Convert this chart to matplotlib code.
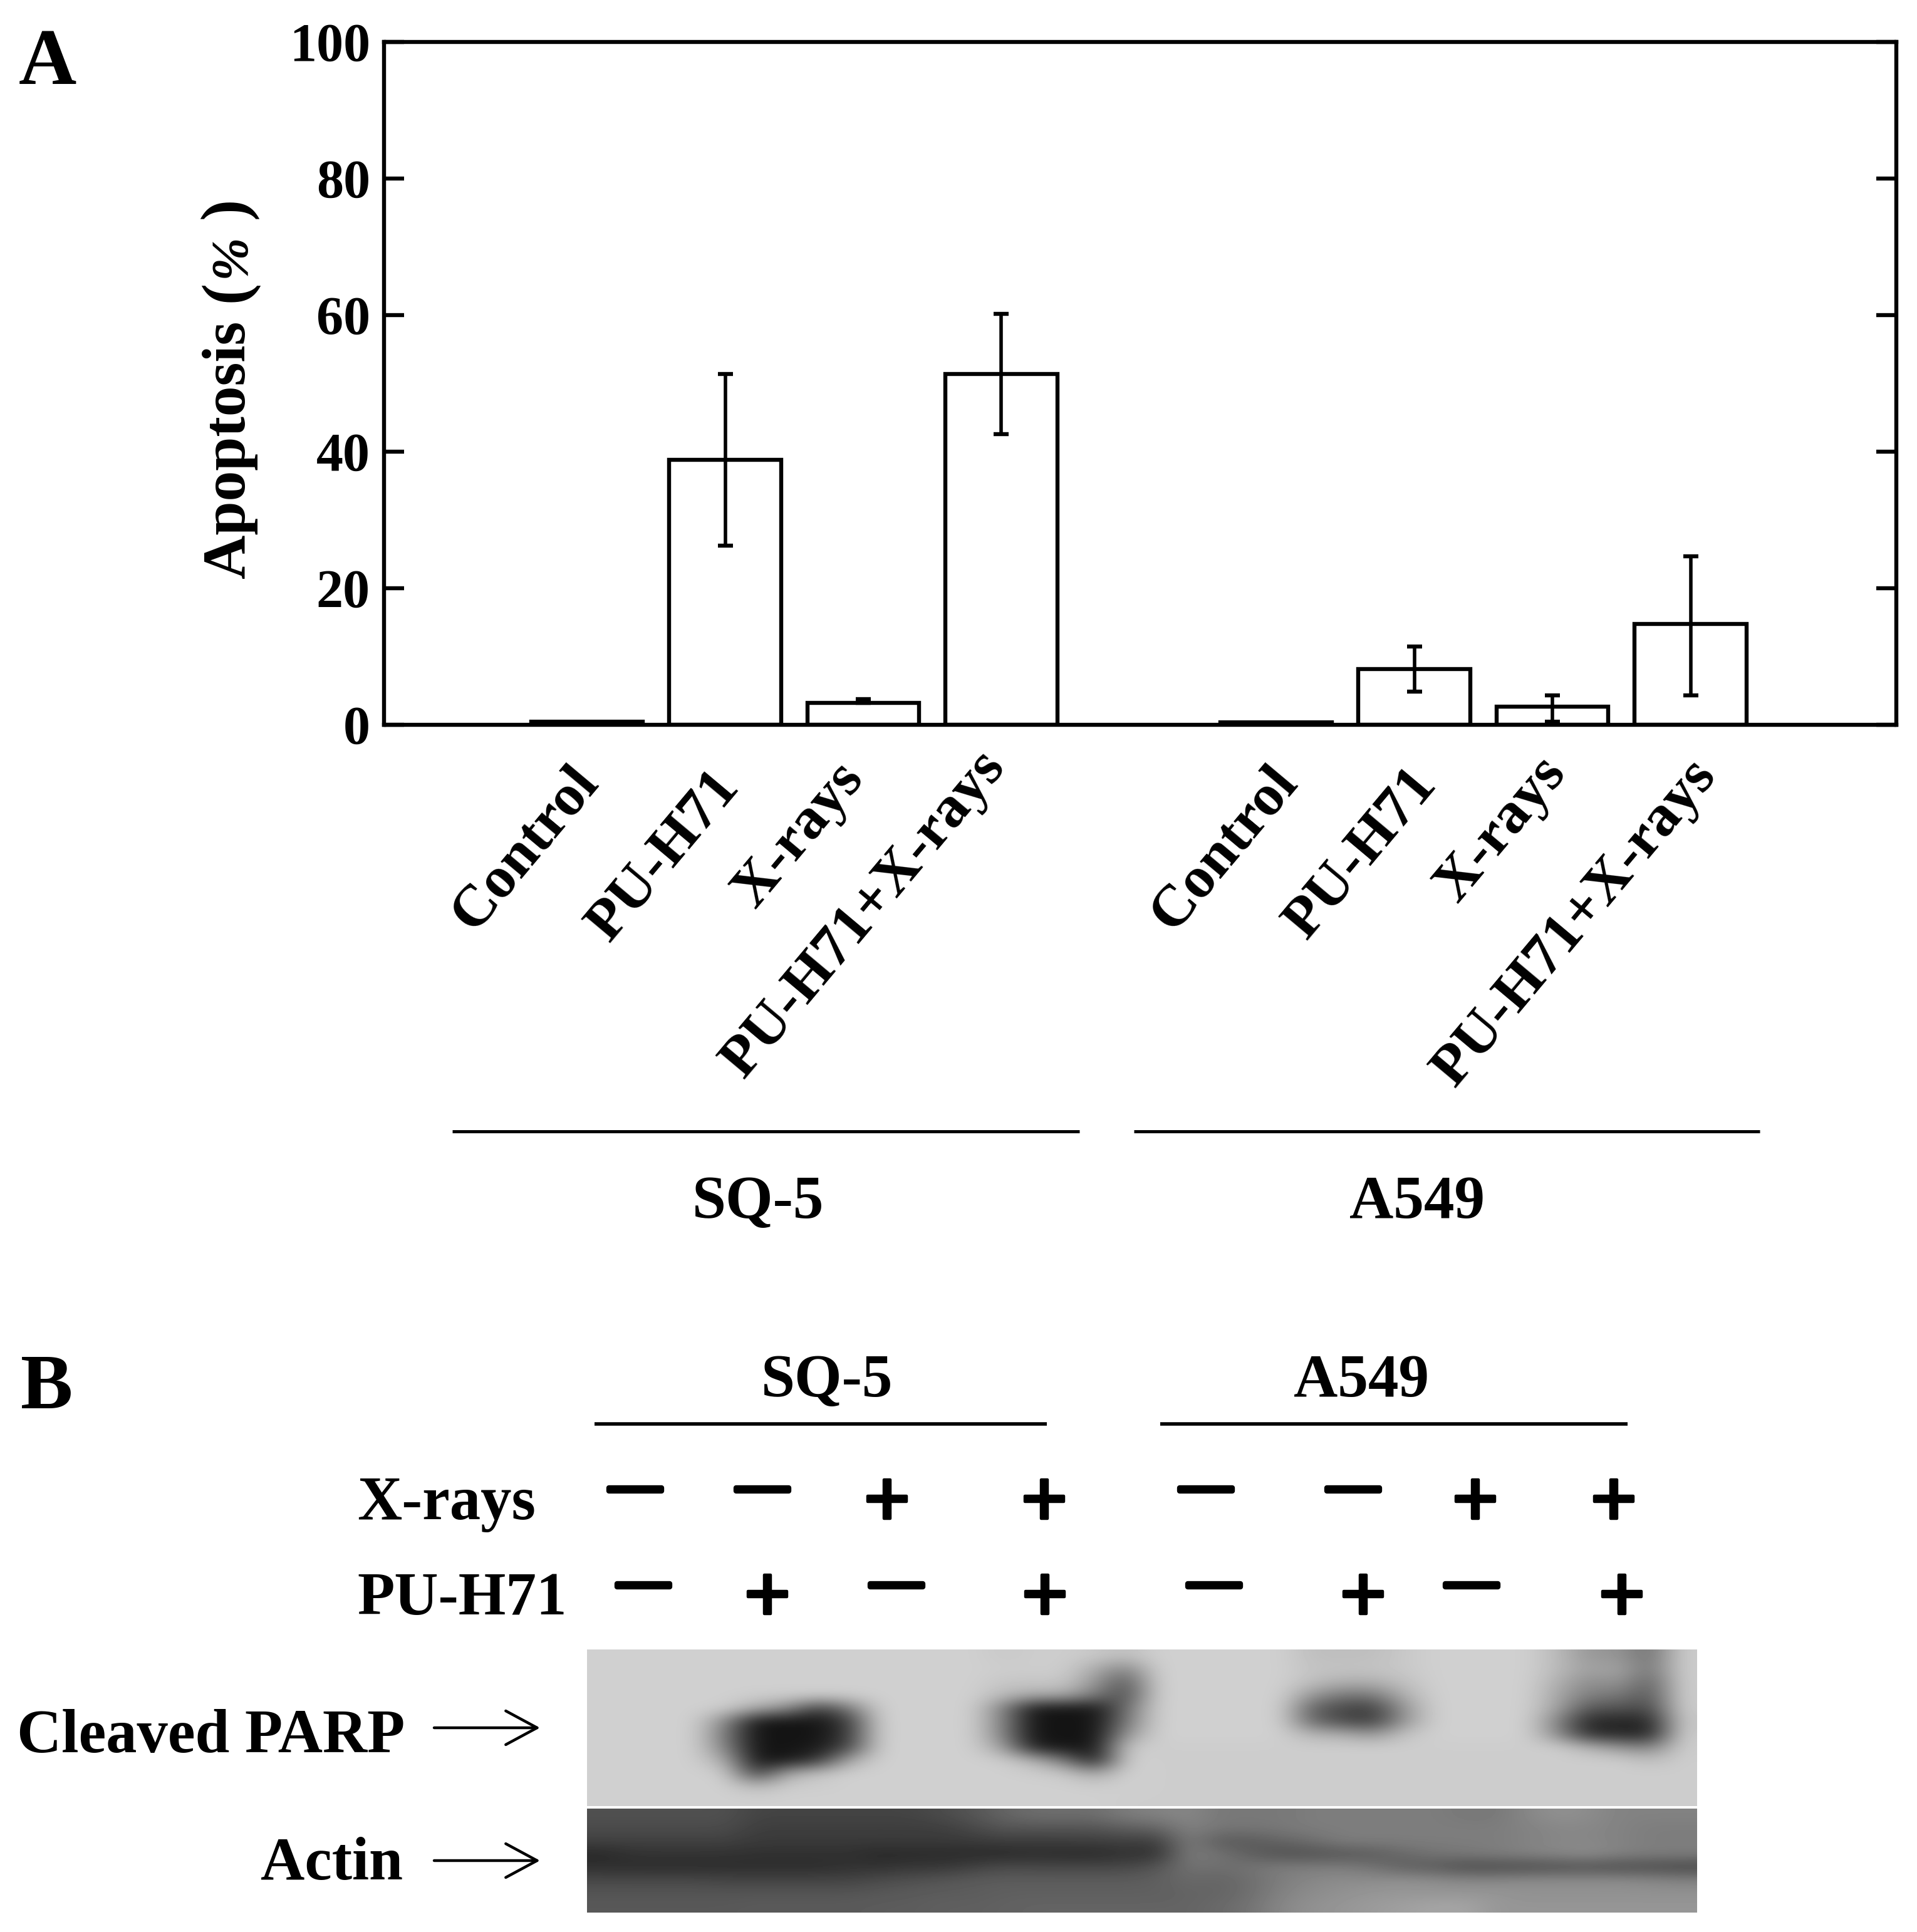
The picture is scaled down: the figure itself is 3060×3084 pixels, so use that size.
import matplotlib
matplotlib.use("Agg")
import matplotlib.pyplot as plt
import matplotlib.patheffects as pe
import numpy as np

plt.rcParams['font.family'] = ['Liberation Serif', 'DejaVu Serif']
plt.rcParams['font.weight'] = 'bold'

# panel A values
categories = ["Control", "PU-H71", "X-rays", "PU-H71+X-rays"]
sq5_values = [0.5, 38.8, 3.2, 51.4]
sq5_lower = [0.5, 26.2, 3.2, 42.6]
sq5_upper = [0.5, 51.4, 3.8, 60.2]
a549_values = [0.4, 8.2, 2.7, 14.8]
a549_lower = [0.4, 4.9, 0.5, 4.3]
a549_upper = [0.4, 11.5, 4.3, 24.7]
y_ticks = [0, 20, 40, 60, 80, 100]

# panel B treatment signs
xray_signs = ["-", "-", "+", "+", "-", "-", "+", "+"]
puh71_signs = ["-", "+", "-", "+", "-", "+", "-", "+"]

# blot grey levels (36 lanes across, top to bottom)
parp_gray = [
    [208,208,208,208,208,208,208,208,208,208,208,208,208,200,205,205,200,190, 208,208,208,208,208,190,190,190,200,208,208,208,208,185,150,150,110,205],
    [208,208,208,208,208,208,208,208,208,208,208,208,208,205,205,205,170,130, 208,208,208,208,208,195,195,195,200,208,208,208,208,185,160,165,115,205],
    [208,208,208,208,208,208,208,208,208,208,208,208,208,198,198,198,150,85, 208,208,208,208,208,190,175,175,192,208,208,208,208,175,140,150,95,205],
    [208,208,208,208,208,205,205,205,205,208,208,208,208,185,170,170,120,75, 208,208,208,208,208,150,120,120,175,208,208,208,208,165,125,120,85,205],
    [208,208,208,208,205,170,140,60,120,208,208,208,208,130,22,22,22,110, 208,208,208,208,208,100,70,62,150,208,208,208,208,160,85,85,70,205],
    [208,208,208,208,135,20,20,20,60,208,208,208,208,130,20,20,20,120, 208,208,208,208,208,105,75,60,150,208,208,208,208,130,38,38,38,200],
    [208,208,208,208,120,20,20,20,60,208,208,208,208,130,20,20,20,150, 208,208,208,208,208,180,175,150,195,208,208,208,208,140,45,40,35,205],
    [208,208,208,208,130,20,20,25,70,208,208,208,208,160,30,22,22,200, 205,205,205,205,205,205,205,205,205,205,205,205,205,205,180,150,130,205],
    [208,208,208,208,170,22,25,55,170,208,208,208,208,205,180,120,25,208, 205,205,205,205,205,205,205,205,205,205,205,205,205,205,205,205,190,205],
    [208,208,208,208,205,60,170,195,208,208,208,208,208,208,205,200,165,208, 205,205,205,205,205,205,205,205,205,205,205,205,205,205,205,205,205,205],
    [208,208,208,208,208,185,205,205,208,208,208,208,208,208,208,208,205,208, 205,205,205,205,205,205,205,205,205,205,205,205,205,205,205,205,205,205],
    [208,208,208,208,208,208,208,208,208,208,208,208,208,208,208,208,208,205, 205,205,205,205,205,205,205,205,205,205,205,205,205,205,205,205,205,205],
]
actin_gray = [
    [80,80,80,80,80,68,68,68,68,68,68,75,85,100,110,110,110,125, 130,135,120,120,120,125,125,125,125,125,120,120,135,145,140,130,130,130],
    [75,75,75,75,75,62,62,62,62,62,62,62,72,85,85,85,85,95, 100,130,118,118,120,125,125,125,125,125,125,125,130,135,135,130,125,125],
    [65,65,65,65,65,58,58,58,58,58,58,58,58,62,60,62,62,65, 60,125,90,90,100,110,125,125,125,125,125,125,130,135,135,130,125,125],
    [40,50,50,50,50,48,48,48,48,40,42,42,42,40,45,42,42,50, 48,125,115,95,80,80,85,90,105,115,120,125,130,135,140,130,125,125],
    [48,45,45,45,45,45,45,45,50,50,55,55,65,75,72,72,72,72, 85,115,110,115,125,125,125,115,95,90,75,75,75,78,80,75,75,70],
    [72,72,72,72,68,68,68,68,68,75,80,85,90,92,92,92,92,92, 95,105,100,110,125,135,140,140,145,140,135,135,140,140,140,140,135,130],
    [85,85,85,85,85,85,85,85,85,88,90,92,92,95,95,95,95,95, 95,100,100,110,130,140,145,150,150,150,150,150,145,145,145,145,145,145],
    [88,88,88,88,88,90,90,90,90,92,92,95,95,97,100,100,100,100, 100,100,105,115,135,145,150,155,160,165,165,150,150,150,150,150,150,150],
]

fig = plt.figure(figsize=(15.3, 15.42), dpi=200, facecolor='white')
W, H = 3060.0, 3084.0

# panel A
left, right, top, bottom = 613, 3027, 67, 1157
ax = fig.add_axes([left / W, 1 - bottom / H, (right - left) / W, (bottom - top) / H])

sq5_pos = np.arange(len(categories))
a549_pos = sq5_pos + 4.99
for pos, vals, low, up in [(sq5_pos, sq5_values, sq5_lower, sq5_upper),
                           (a549_pos, a549_values, a549_lower, a549_upper)]:
    vals = np.array(vals)
    ax.bar(pos, vals, width=0.81, facecolor='white', edgecolor='black', linewidth=2.3, zorder=2)
    err = [vals - np.array(low), np.array(up) - vals]
    ax.errorbar(pos[1:], vals[1:], yerr=[err[0][1:], err[1][1:]], fmt='none', ecolor='black',
                elinewidth=2.0, capsize=4.3, capthick=2.3, zorder=3)

ax.set_xlim(-1.47, 9.48)
ax.set_ylim(0, 100)
ax.set_xticks([])
ax.set_yticks(y_ticks)
ax.tick_params(axis='y', direction='in', left=True, right=True, length=11.5, width=2.3,
               labelsize=31, pad=8)
for s in ax.spines.values():
    s.set_linewidth(2.3)

# everything around the axes is placed in picture pixels
ov = fig.add_axes([0, 0, 1, 1])
ov.set_axis_off()

ov.imshow(np.array(parp_gray), cmap='gray', vmin=0, vmax=255, interpolation='bicubic',
          extent=[937, 2709, 2883, 2633], aspect='auto')
ov.imshow(np.array(actin_gray), cmap='gray', vmin=0, vmax=255, interpolation='bicubic',
          extent=[937, 2709, 3053, 2887], aspect='auto')
ov.set_xlim(0, W)
ov.set_ylim(H, 0)

# y label in pieces, only the percent sign is italic
ylab = dict(rotation=90, rotation_mode='anchor', va='baseline')
ov.text(390, 923, "Apoptosis", ha='left', fontsize=35, **ylab)
ov.text(390, 465, "(", ha='center', fontsize=37, **ylab)
ov.text(390, 408, "%", ha='center', fontsize=30, style='italic', **ylab)
ov.text(390, 332, ")", ha='center', fontsize=37, **ylab)

label_ends = [(940, 1235), (1165, 1243), (1363, 1229), (1589, 1210),
              (2056, 1235), (2278, 1239), (2484, 1220), (2724, 1224)]
for (lx, ly), name in zip(label_ends, categories + categories):
    ov.text(lx, ly, name, rotation=50, rotation_mode='anchor', ha='right', va='center', fontsize=34)

ov.plot([722, 1723], [1806, 1806], color='k', lw=1.8, solid_capstyle='butt')
ov.plot([1810, 2809], [1806, 1806], color='k', lw=1.8, solid_capstyle='butt')
ov.text(1210, 1944, "SQ-5", ha='center', va='baseline', fontsize=35)
ov.text(2262, 1944, "A549", ha='center', va='baseline', fontsize=35)

ov.text(30, 134, "A", ha='left', va='baseline', fontsize=46)
ov.text(33, 2248, "B", ha='left', va='baseline', fontsize=45)

# panel B header
ov.text(1320, 2229, "SQ-5", ha='center', va='baseline', fontsize=35)
ov.text(2173, 2229, "A549", ha='center', va='baseline', fontsize=35)
ov.plot([949, 1671], [2273, 2273], color='k', lw=2.0, solid_capstyle='butt')
ov.plot([1852, 2598], [2273, 2273], color='k', lw=2.0, solid_capstyle='butt')
ov.text(570, 2425, "X-rays", ha='left', va='baseline', fontsize=35.5)
ov.text(570, 2577, "PU-H71", ha='left', va='baseline', fontsize=35)

xray_x = [1014, 1217, 1416, 1667, 1925, 2160, 2355, 2576]
puh71_x = [1027, 1225, 1431, 1668, 1938, 2176, 2349, 2589]
for signs, xs, minus_y, plus_y in [(xray_signs, xray_x, 2378, 2392), (puh71_signs, puh71_x, 2531, 2544)]:
    for sign, sx in zip(signs, xs):
        if sign == "+":
            t = ov.text(sx, plus_y + 45, "+", ha='center', va='baseline', fontsize=48)
            t.set_path_effects([pe.withStroke(linewidth=1.6, foreground='k')])
        else:
            t = ov.text(sx, minus_y + 19, "\u2014", ha='center', va='baseline', fontsize=30)
            t.set_path_effects([pe.withStroke(linewidth=3.0, foreground='k')])

ov.text(27, 2797, "Cleaved PARP", ha='left', va='baseline', fontsize=35.5)
ov.text(643, 3000, "Actin", ha='right', va='baseline', fontsize=35)
for ay in [2758, 2970]:
    ov.annotate("", xy=(862, ay), xytext=(693, ay),
                arrowprops=dict(arrowstyle="->,head_length=18,head_width=9.7", mutation_scale=1,
                                lw=1.6, color='k', shrinkA=0, shrinkB=0))

plt.savefig("out.png", dpi=200)
